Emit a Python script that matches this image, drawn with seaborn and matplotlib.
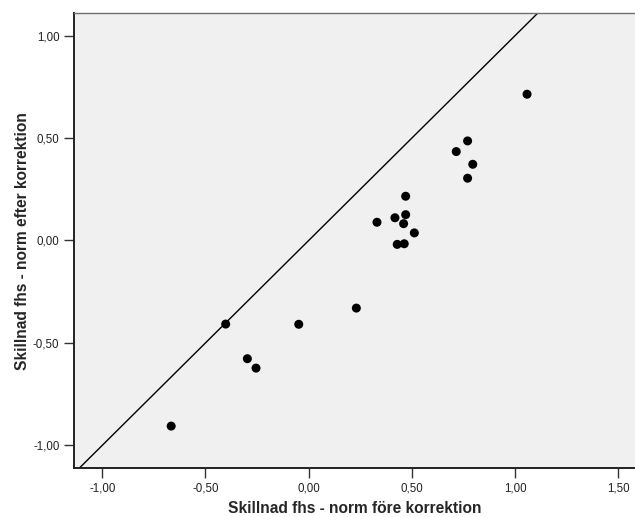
import pandas as pd
import matplotlib
matplotlib.use("Agg")
import matplotlib.pyplot as plt
import matplotlib.ticker as mticker
import seaborn as sns

# difference fhs - norm, before and after correction
fore = [-0.666, -0.402, -0.297, -0.255, -0.048, 0.231,
        0.331, 0.418, 0.470, 0.460, 0.512, 0.429, 0.463, 0.470,
        0.715, 0.770, 0.795, 0.770, 1.058]
efter = [-0.906, -0.408, -0.577, -0.623, -0.409, -0.330,
         0.089, 0.111, 0.126, 0.082, 0.037, -0.019, -0.016, 0.216,
         0.434, 0.486, 0.372, 0.304, 0.714]
xticks = [-1.0, -0.5, 0.0, 0.5, 1.0, 1.5]
yticks = [-1.0, -0.5, 0.0, 0.5, 1.0]

df = pd.DataFrame({"fore": fore, "efter": efter})

sns.set_style("white")
plt.rcParams['font.family'] = ['Liberation Sans', 'DejaVu Sans']

fig = plt.figure(figsize=(6.35, 5.17), dpi=100)
ax = fig.add_axes([0.1165, 0.0942, 0.8835, 0.8801])
ax.set_facecolor("#F0F0F0")

# identity line y = x
ax.axline((0, 0), slope=1, color="black", linewidth=1.0, zorder=2)

sns.scatterplot(data=df, x="fore", y="efter", ax=ax, color="black",
                s=42, edgecolor="none", zorder=3)

ax.set_xlim(-1.137, 1.581)
ax.set_ylim(-1.112, 1.109)
ax.set_xticks(xticks)
ax.set_yticks(yticks)
fmt = mticker.FuncFormatter(lambda v, p: f"{v:.2f}".replace(".", ","))
ax.xaxis.set_major_formatter(fmt)
ax.yaxis.set_major_formatter(fmt)
ax.tick_params(axis="both", direction="out", length=7.5, width=1,
               color="#333333", labelsize=8.3, labelcolor="#222222",
               bottom=True, left=True, pad=3)

for side in ["left", "bottom"]:
    ax.spines[side].set_color("#222222")
    ax.spines[side].set_linewidth(1.4)
ax.spines["top"].set_color("#707070")
ax.spines["top"].set_linewidth(1.0)
ax.spines["right"].set_visible(False)

ax.set_xlabel("Skillnad fhs - norm före korrektion", fontsize=11.2,
              fontweight="bold", va="baseline")
ax.set_ylabel("Skillnad fhs - norm efter korrektion", fontsize=11.2,
              fontweight="bold", va="baseline")
ax.xaxis.set_label_coords(0.5, -0.0989)
ax.yaxis.set_label_coords(-0.0843, 0.5)

fig.savefig("out.png", dpi=100)
